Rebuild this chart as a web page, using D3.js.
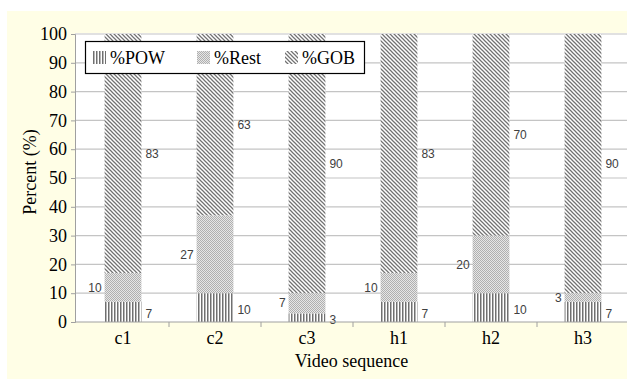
<!DOCTYPE html>
<html><head><meta charset="utf-8">
<script src="https://cdn.jsdelivr.net/npm/d3@7"></script>
<style>html,body{margin:0;padding:0;background:#fff;}svg{display:block;}</style>
</head><body>
<script>
const categories = ["c1","c2","c3","h1","h2","h3"];
const pow  = [7, 10, 3, 7, 10, 7];
const rest = [10, 27, 7, 10, 20, 3];
const gob  = [83, 63, 90, 83, 70, 90];
const seriesNames = ["%POW","%Rest","%GOB"];
const yTicks = [0,10,20,30,40,50,60,70,80,90,100];

(function(){
const W = 627, H = 379;
const svg = d3.select("body").append("svg").attr("width", W).attr("height", H);
const defs = svg.append("defs");

// patterns
const pPow = defs.append("pattern").attr("id","pPow").attr("patternUnits","userSpaceOnUse").attr("width",3).attr("height",3);
pPow.append("rect").attr("width",3).attr("height",3).attr("fill","#ffffff");
pPow.append("rect").attr("x",0).attr("width",1.5).attr("height",3).attr("fill","#707070");

const pRest = defs.append("pattern").attr("id","pRest").attr("patternUnits","userSpaceOnUse").attr("width",2).attr("height",2);
pRest.append("rect").attr("width",2).attr("height",2).attr("fill","#e6e6e6");
pRest.append("rect").attr("x",0).attr("y",0).attr("width",1).attr("height",1).attr("fill","#b0b0b0");
pRest.append("rect").attr("x",1).attr("y",1).attr("width",1).attr("height",1).attr("fill","#b0b0b0");

const pGob = defs.append("pattern").attr("id","pGob").attr("patternUnits","userSpaceOnUse").attr("width",4).attr("height",4);
pGob.append("rect").attr("width",4).attr("height",4).attr("fill","#ffffff");
pGob.append("path").attr("d","M-1,-1 L5,5 M-1,3 L1,5 M3,-1 L5,1").attr("stroke","#727272").attr("stroke-width",1.25);

const fills = ["url(#pPow)","url(#pRest)","url(#pGob)"];

// background
svg.append("rect").attr("x",7).attr("y",11).attr("width",W-7).attr("height",H-11).attr("fill","#fffee6");

const pLeft = 75, pRight = 628, pTop = 34, pBottom = 322;
svg.append("rect").attr("x",pLeft).attr("y",pTop-1).attr("width",W-pLeft).attr("height",pBottom-pTop+1).attr("fill","#ffffff");

const x = d3.scaleBand().domain(categories).range([pLeft+2, pRight+1]).paddingInner(0.6).paddingOuter(0.3);
const y = d3.scaleLinear().domain([0,100]).range([pBottom, pTop]);

// gridlines
svg.append("g").selectAll("line").data(yTicks.filter(d=>d>0)).join("line")
  .attr("x1",pLeft).attr("x2",W).attr("y1",d=>y(d)).attr("y2",d=>y(d))
  .attr("stroke","#c4c4c4").attr("stroke-width",1.2);

// stacked data
const rows = categories.map((c,i)=>({cat:c, pow:pow[i], rest:rest[i], gob:gob[i]}));
const stack = d3.stack().keys(["pow","rest","gob"])(rows);

const gBars = svg.append("g");
stack.forEach((layer, li) => {
  gBars.append("g").selectAll("rect").data(layer).join("rect")
    .attr("x", d=>x(d.data.cat))
    .attr("width", x.bandwidth())
    .attr("y", d=>y(d[1]))
    .attr("height", d=>y(d[0])-y(d[1]))
    .attr("fill", fills[li]);
});

// value labels
const lblFont = "'Liberation Sans', Arial, sans-serif";
stack.forEach((layer, li) => {
  svg.append("g").selectAll("text").data(layer).join("text")
    .attr("x", d => li===1 ? x(d.data.cat)-3 : x(d.data.cat)+x.bandwidth()+4)
    .attr("y", d => (y(d[0])+y(d[1]))/2 + (li===0 ? 2 : 0))
    .attr("dy","0.35em")
    .attr("text-anchor", li===1 ? "end" : "start")
    .style("font-family", lblFont).style("font-size", "12px").attr("fill","#404040")
    .text(d => d[1]-d[0]);
});

// axes
const serif = "'Liberation Serif','Times New Roman',serif";
const yAxis = svg.append("g").attr("transform",`translate(${pLeft},0)`)
  .call(d3.axisLeft(y).tickValues(yTicks).tickSize(4).tickPadding(4));
yAxis.select(".domain").attr("stroke","#a0a0a0");
yAxis.selectAll(".tick line").attr("stroke","#a0a0a0");
yAxis.selectAll("text").style("font-family",serif).style("font-size","18px").attr("fill","#000");

const xAxis = svg.append("g").attr("transform",`translate(0,${pBottom})`)
  .call(d3.axisBottom(x).tickSize(0).tickPadding(9));
xAxis.select(".domain").remove();
xAxis.selectAll("text").style("font-family",serif).style("font-size","18px").attr("fill","#000");
svg.append("line").attr("x1",pLeft).attr("x2",W).attr("y1",pBottom).attr("y2",pBottom).attr("stroke","#a0a0a0");
// category boundary ticks
const step = x.step();
const bounds = categories.slice(1).map(c => x(c) - step*x.paddingInner()/2);
svg.append("g").selectAll("line").data(bounds).join("line")
  .attr("x1",d=>d).attr("x2",d=>d).attr("y1",pBottom).attr("y2",pBottom+5).attr("stroke","#a0a0a0");

// axis titles
svg.append("text").attr("x",(pLeft+pRight)/2).attr("y",367).attr("text-anchor","middle")
  .style("font-family",serif).style("font-size","18px").text("Video sequence");
svg.append("text").attr("transform","translate(36,172) rotate(-90)").attr("text-anchor","middle")
  .style("font-family",serif).style("font-size","18px").text("Percent (%)");

// legend
const lg = svg.append("g");
lg.append("rect").attr("x",85.5).attr("y",41.5).attr("width",279).attr("height",32)
  .attr("fill","#fff").attr("stroke","#000").attr("stroke-width",1.2);
const lx = [93, 197, 285];
seriesNames.forEach((s,i)=>{
  lg.append("rect").attr("x",lx[i]).attr("y",51).attr("width",13).attr("height",13).attr("fill",fills[i]);
  lg.append("text").attr("x",lx[i]+17).attr("y",63.5).style("font-family",serif).style("font-size","18px").text(s);
});
})();
</script>
</body></html>
